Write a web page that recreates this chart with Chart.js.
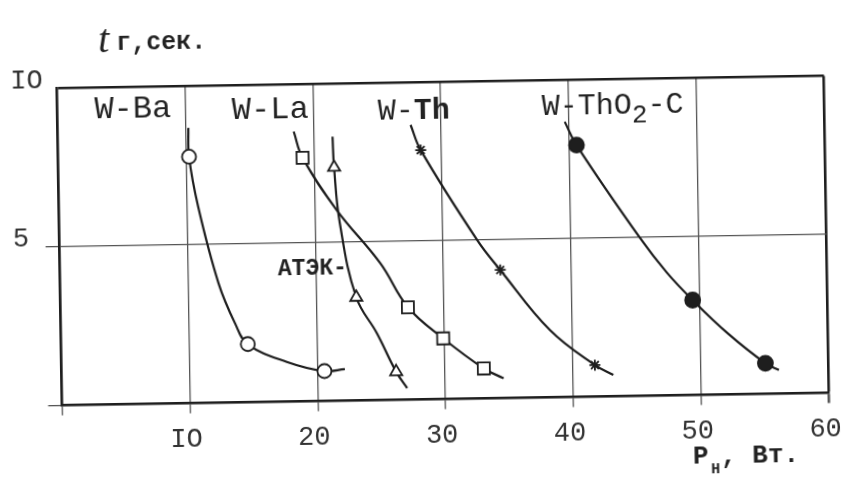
<!DOCTYPE html>
<html>
<head>
<meta charset="utf-8">
<script src="https://cdn.jsdelivr.net/npm/chart.js@4.4.1/dist/chart.umd.min.js"></script>
<style>
  html, body { margin: 0; background: #fff; }
  #wrap { width: 843px; height: 491px; overflow: hidden; background: #fff; }
  canvas { display: block; transform: rotate(-0.93deg); transform-origin: 50% 50%; }
</style>
</head>
<body>
<div id="wrap"><canvas id="chart" width="843" height="491"></canvas></div>
<script>
// measured points (markers) and extra points along each hand-drawn curve
const baX = [10.24, 14.60, 20.56];
const baY = [7.78, 1.84, 0.95];
const baTraceX = [10.22, 10.89, 12.39, 13.63, 17.63, 22.16];
const baTraceY = [8.69, 6.20, 3.77, 2.50, 1.26, 1.00];

const laX = [19.12, 27.17, 29.89, 33.03];
const laY = [7.69, 2.92, 1.92, 0.95];
const laTraceX = [18.46, 21.73, 25.07, 34.57];
const laTraceY = [8.52, 6.02, 4.32, 0.63];

const atekX = [21.57, 23.14, 26.17];
const atekY = [7.37, 3.26, 0.89];
const atekTraceX = [21.49, 21.95, 24.72, 27.01];
const atekTraceY = [8.34, 5.61, 2.11, 0.37];

const thX = [28.37, 34.44, 41.72];
const thY = [7.87, 4.05, 1.00];
const thTraceX = [27.61, 32.68, 38.24, 43.15];
const thTraceY = [8.67, 5.00, 2.13, 0.68];

const thoX = [40.56, 49.45, 55.06];
const thoY = [7.95, 3.00, 0.97];
const thoTraceX = [39.67, 45.42, 47.47, 52.16, 56.11];
const thoTraceY = [8.69, 4.98, 3.88, 1.93, 0.75];

const xTicks = [0, 10, 20, 30, 40, 50, 60];
const xTickLabels = ['', 'IO', '20', '30', '40', '50', '60'];
const yTicks = [0, 5, 10];
const yTickLabels = ['', '5', 'IO'];

const INK = '#1e1e1e';
const GRID = '#555';
const MONO = '"Liberation Mono", "Courier New", monospace';

function pts(xs, ys) {
  return xs.map((x, i) => ({ x: x, y: ys[i] }));
}
function curve(mx, my, tx, ty) {
  return pts(mx, my).concat(pts(tx, ty)).sort((a, b) => a.x - b.x);
}
function lineSet(data) {
  return {
    data: data, showLine: true, borderColor: INK, borderWidth: 2.2,
    pointRadius: 0, tension: 0.4, order: 1
  };
}
function markSet(data, style, r, fill) {
  return {
    data: data, showLine: false, pointStyle: style, pointRadius: r,
    pointBackgroundColor: fill, pointBorderColor: INK, pointBorderWidth: 1.8, order: 0
  };
}

// series names and small texts around the plot
const textPlugin = {
  id: 'texts',
  afterDraw(chart) {
    const { ctx, chartArea: a, scales: { x, y } } = chart;
    ctx.save();
    ctx.fillStyle = '#222';
    ctx.textBaseline = 'alphabetic';
    ctx.textAlign = 'left';

    const big = '32px ' + MONO;
    const put = (t, px, py, font) => { ctx.font = font; ctx.fillText(t, px, py); return px + ctx.measureText(t).width; };

    put('W-Ba', x.getPixelForValue(2.9), y.getPixelForValue(9.05), big);
    put('W-La', x.getPixelForValue(13.65), y.getPixelForValue(8.95), big);
    let px = put('W-', x.getPixelForValue(25.07), y.getPixelForValue(8.84), '30px ' + MONO);
    put('Th', px, y.getPixelForValue(8.84), 'bold 30px ' + MONO);
    px = put('W-ThO', x.getPixelForValue(37.9), y.getPixelForValue(8.92), '30px ' + MONO);
    px = put('2', px, y.getPixelForValue(8.92) + 9, '26px ' + MONO);
    put('-C', px, y.getPixelForValue(8.92), '30px ' + MONO);
    put('АТЭК-', x.getPixelForValue(17.05), y.getPixelForValue(4.0), 'bold 23px ' + MONO);

    // axis titles
    put('t', a.left + 42, a.top - 36, 'italic 40px "Liberation Serif", serif');
    put('г,сек.', a.left + 60, a.top - 38, 'bold 25px ' + MONO);
    const bx = a.right - 137, by = a.bottom + 68;
    put('P', bx, by, 'bold 26px ' + MONO);
    put('H', bx + 18, by + 10, 'bold 15px ' + MONO);
    put(', Вт.', bx + 28, by, 'bold 26px ' + MONO);
    ctx.restore();
  }
};

new Chart(document.getElementById('chart'), {
  type: 'scatter',
  data: {
    datasets: [
      lineSet(curve(baX, baY, baTraceX, baTraceY)),
      lineSet(curve(laX, laY, laTraceX, laTraceY)),
      lineSet(curve(atekX, atekY, atekTraceX, atekTraceY)),
      lineSet(curve(thX, thY, thTraceX, thTraceY)),
      lineSet(curve(thoX, thoY, thoTraceX, thoTraceY)),
      markSet(pts(baX, baY), 'circle', 7, '#fff'),
      markSet(pts(laX, laY), 'rect', 8.5, '#fff'),
      markSet(pts(atekX, atekY), 'triangle', 7, '#fff'),
      markSet(pts(thX, thY), 'star', 5.5, INK),
      markSet(pts(thoX, thoY), 'circle', 7.5, INK)
    ]
  },
  options: {
    responsive: false,
    animation: false,
    layout: { padding: { left: 13, top: 82.6, right: 16.4, bottom: 0 } },
    plugins: { legend: { display: false }, tooltip: { enabled: false } },
    scales: {
      x: {
        type: 'linear', min: 0, max: 60,
        afterFit: (s) => { s.height = 91.4; s.paddingLeft = 0; s.paddingRight = 0; },
        afterBuildTicks: (s) => { s.ticks = xTicks.map(v => ({ value: v })); },
        ticks: {
          callback: (v) => xTickLabels[xTicks.indexOf(v)],
          font: { family: MONO, size: 27 }, color: '#333', padding: 10, maxRotation: 0,
          labelOffset: -4
        },
        grid: {
          color: (c) => c.tick && c.tick.value === 60 ? INK : GRID,
          lineWidth: (c) => c.tick && c.tick.value === 60 ? 2.6 : 1.3,
          tickColor: GRID, tickLength: 10
        },
        border: { color: INK, width: 2.6 }
      },
      y: {
        type: 'linear', min: 0, max: 10,
        afterFit: (s) => { s.width = 46.6; s.paddingTop = 0; s.paddingBottom = 0; },
        afterBuildTicks: (s) => { s.ticks = yTicks.map(v => ({ value: v })); },
        ticks: {
          callback: (v) => yTickLabels[yTicks.indexOf(v)],
          font: { family: MONO, size: 27 }, color: '#333', crossAlign: 'far', labelOffset: -8
        },
        grid: {
          color: (c) => c.tick && c.tick.value === 10 ? INK : GRID,
          lineWidth: (c) => c.tick && c.tick.value === 10 ? 2.6 : 1.3,
          tickColor: (c) => c.tick && c.tick.value === 10 ? 'rgba(0,0,0,0)' : GRID,
          tickLength: 14
        },
        border: { color: INK, width: 2.6 }
      }
    }
  },
  plugins: [textPlugin]
});
</script>
</body>
</html>
